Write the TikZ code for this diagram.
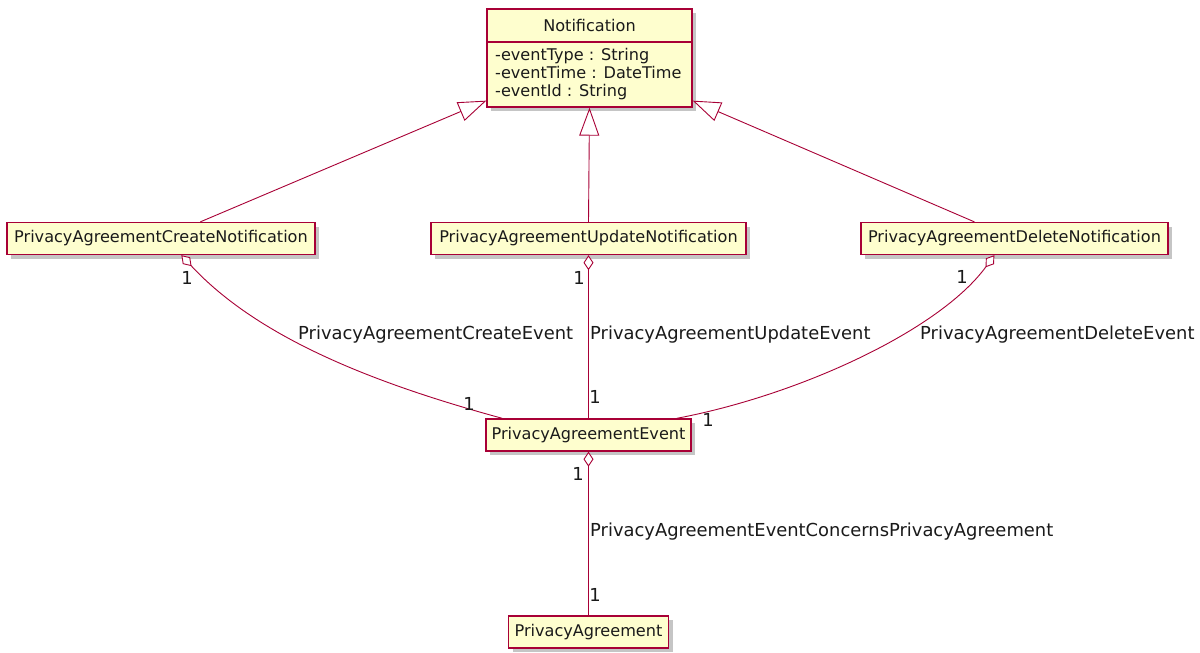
\documentclass[tikz,border=0pt]{standalone}
\usepackage{fontspec}
\setmainfont{DejaVu Sans}
\usetikzlibrary{arrows.meta,shadows,calc}
\definecolor{umlborder}{HTML}{A80036}
\definecolor{umlfill}{HTML}{FEFECE}
\definecolor{umltext}{HTML}{1A1A1A}
\begin{document}
\begin{tikzpicture}[x=1pt,y=-1pt,
  cls/.style={draw=umlborder, line width=1.3pt, fill=umlfill,
    drop shadow={shadow xshift=4pt, shadow yshift=-4pt, fill=black!45, opacity=0.5},
    inner sep=0pt, minimum height=32pt, text=umltext,
    font=\fontsize{16.1}{19}\selectfont},
  rel/.style={draw=umlborder, line width=0.9pt},
  gen/.style={rel, -{Triangle[length=28pt, width=20pt, fill=white, line width=0.9pt]}},
  agg/.style={rel, {Diamond[length=15pt, width=10pt, fill=white, line width=0.9pt]}-},
  lbl/.style={inner sep=0pt, anchor=west, text=umltext, font=\fontsize{17.9}{20}\selectfont},
  mult/.style={inner sep=0pt, text=umltext, font=\fontsize{17.9}{20}\selectfont}
]
\path[fill=white, use as bounding box] (0,0) rectangle (1200,653);

% classes
\node[cls, minimum width=205pt, minimum height=98pt] (notif) at (589.5,58) {};
\draw[umlborder, line width=1.3pt] (487,42) coordinate (sepl) -- (692,42) coordinate (sepr);
\node[inner sep=0pt, text=umltext, font=\fontsize{16.1}{19}\selectfont] (ntitle) at (589.5,25) {Notification};
\node[inner sep=0pt, anchor=west, align=left, text=umltext, font=\fontsize{16.1}{18}\selectfont] (nattr) at (495,74)
  {-eventType : String\\-eventTime : DateTime\\-eventId : String};

\node[cls, minimum width=308pt] (create) at (161,238.5) {PrivacyAgreementCreateNotification};
\node[cls, minimum width=315pt] (update) at (588.5,238.5) {PrivacyAgreementUpdateNotification};
\node[cls, minimum width=307pt] (delete) at (1014.5,238.5) {PrivacyAgreementDeleteNotification};
\node[cls, minimum width=205pt] (event) at (588.5,435) {PrivacyAgreementEvent};
\node[cls, minimum width=160pt] (pa) at (588.5,632) {PrivacyAgreement};

% generalizations
\draw[gen] ($(create.north west)+(194,0)$) -- ($(notif.south west)+(0,-7)$);
\draw[gen] (update.north) -- (notif.south);
\draw[gen] ($(delete.north west)+(114,0)$) -- ($(notif.south east)+(0,-7)$);

% aggregations
\draw[agg] ($(create.south west)+(175,0)$) .. controls (260,340) and (380,385) .. ($(event.north west)+(17,0)$);
\draw[agg] (update.south) -- (event.north);
\draw[agg] ($(delete.south west)+(134,0)$) .. controls (940,330) and (800,395) .. ($(event.north east)+(-15,0)$);
\draw[agg] (event.south) -- (pa.north);

% labels
\node[lbl] (lc) at (298,335) {PrivacyAgreementCreateEvent};
\node[lbl] (lu) at (590,335) {PrivacyAgreementUpdateEvent};
\node[lbl] (ld) at (920,335) {PrivacyAgreementDeleteEvent};
\node[lbl] (lp) at (590,532) {PrivacyAgreementEventConcernsPrivacyAgreement};

% multiplicities
\node[mult] (m1) at (187,278) {1};
\node[mult] (m2) at (469,404) {1};
\node[mult] (m3) at (579,278) {1};
\node[mult] (m4) at (595,397) {1};
\node[mult] (m5) at (962,277) {1};
\node[mult] (m6) at (708,420) {1};
\node[mult] (m7) at (578,474) {1};
\node[mult] (m8) at (595,595) {1};
\end{tikzpicture}
\end{document}
